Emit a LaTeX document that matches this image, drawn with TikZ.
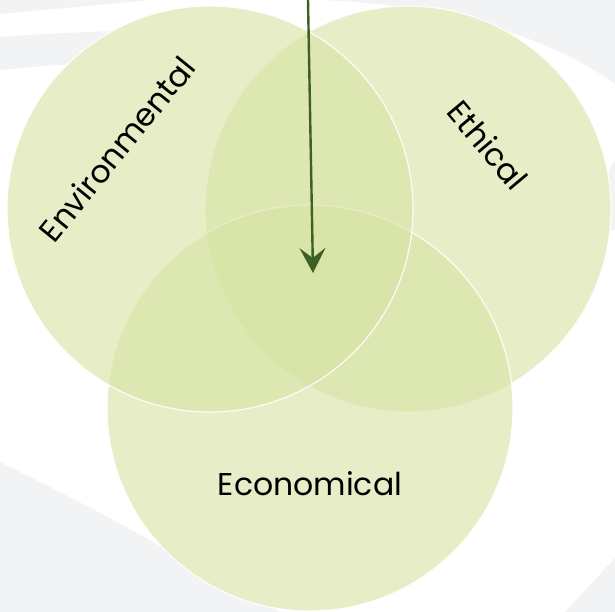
\documentclass[tikz,border=0pt]{standalone}
\usepackage{fontspec}
\setmainfont{Poppins}
\usetikzlibrary{arrows.meta}
\definecolor{bggrey}{HTML}{F2F3F5}
\definecolor{vennfill}{HTML}{D7E3A3}
\definecolor{arrowgreen}{HTML}{3D6024}
\tikzset{
  venn/.style={circle, minimum size=406pt, inner sep=0pt, fill=vennfill, fill opacity=0.6, draw=white, draw opacity=0.9, line width=1.2pt},
  vennbase/.style={circle, minimum size=406pt, inner sep=0pt, fill=white},
  label/.style={font=\fontsize{31.5}{34}\selectfont, text=black, inner sep=0pt},
  pointer/.style={draw=arrowgreen, line width=2.4pt, -{Stealth[length=25pt, width=26pt, inset=10pt]}}
}
\begin{document}
\begin{tikzpicture}[x=1pt,y=-1pt]
\useasboundingbox (0,0) rectangle (615,612);
\fill[white] (0,0) rectangle (615,612);
% background swooshes
\fill[bggrey] (0,0) -- (150,0) .. controls (90,6) and (40,10) .. (0,14) -- cycle;
\fill[bggrey] (0,37) .. controls (40,34) and (80,32) .. (120,31) -- (120,62) .. controls (80,63) and (40,66) .. (0,70) -- cycle;
\fill[bggrey] (320,0) .. controls (440,4) and (550,36) .. (615,84) -- (615,0) -- cycle;
\fill[bggrey] (615,160) .. controls (605,175) and (600,195) .. (598,230) -- (615,230) -- cycle;
\fill[bggrey] (0,462) .. controls (60,492) and (120,522) .. (175,555) -- (280,612) -- (0,612) -- cycle;
\fill[bggrey] (565,612) -- (615,558) -- (615,612) -- cycle;
% opaque base under the circles
\node[vennbase] at (408,209) {};
\node[vennbase] at (310,408) {};
\node[vennbase] at (210,209) {};
% circles
\node[venn] (eth) at (408,209) {};
\node[venn] (eco) at (310,408) {};
\node[venn] (env) at (210,209) {};
% labels
\node[label, rotate=51] (tenv) at (117,149) {Environmental};
\node[label, rotate=-50] (teth) at (488,145) {Ethical};
\node[label] (teco) at (310,484) {Economical};
% arrow
\coordinate (top) at (308,0);
\coordinate (centre) at (313,273);
\draw[pointer] (top) -- (centre);
\end{tikzpicture}
\end{document}
